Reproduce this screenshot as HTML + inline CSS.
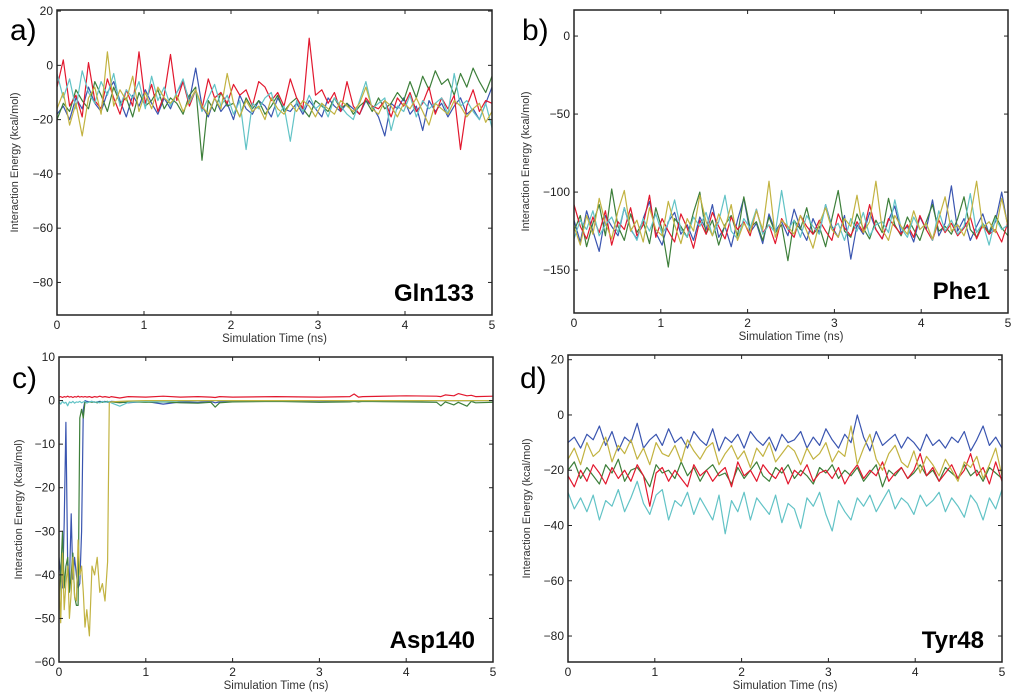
<!DOCTYPE html>
<html><head><meta charset="utf-8">
<style>
html,body{margin:0;padding:0;background:#fff;}
svg{display:block;font-family:"Liberation Sans",sans-serif;}
</style></head>
<body>
<svg id="fig" width="1024" height="700" viewBox="0 0 1024 700"></svg>
<script>
// ---- Panel a (Gln133) ----
const aBlue=[-18,-15,-20,-12,-16,-8,-14,-17,-10,-6,-13,-19,-11,-15,-9,-14,-18,-12,-16,-10,-6,-13,-1,-15,-19,-12,-17,-14,-20,-11,-16,-18,-13,-15,-19,-12,-16,-17,-14,-18,-13,-16,-19,-12,-15,-17,-14,-16,-18,-13,-15,-19,-26,-14,-16,-12,-18,-15,-24,-13,-17,-14,-19,-15,-12,-18,-16,-20,-14,-8];
const aGreen=[-20,-14,-17,-9,-13,-16,-6,-11,-17,-8,-14,-12,-19,-10,-15,-13,-9,-16,-12,-14,-18,-11,-8,-35,-13,-17,-10,-15,-14,-19,-12,-16,-13,-18,-15,-11,-17,-14,-12,-16,-19,-13,-15,-17,-12,-16,-14,-18,-15,-13,-17,-12,-16,-14,-10,-13,-6,-12,-4,-9,-2,-7,-5,-11,-3,-8,-1,-6,-10,-4];
const aRed=[-8,2,-15,-11,-19,1,-13,-16,-5,-12,-18,-9,-15,5,-14,-7,-17,-11,4,-13,-6,-15,-9,-16,-5,-12,-10,-14,-7,-11,-9,-15,-6,-8,-13,-10,-15,-5,-12,-16,10,-11,-9,-14,-10,-17,-6,-15,-18,-12,-15,-16,-13,-19,-12,-15,-10,-17,-14,-8,-18,-12,-16,-11,-31,-15,-9,-17,-13,-14];
const aCyan=[-3,-12,-5,-16,-2,-10,-14,-6,-11,-3,-15,-9,-12,-6,-16,-4,-13,-8,-15,-10,-5,-14,-9,-17,-12,-7,-15,-11,-18,-13,-31,-14,-16,-12,-10,-19,-15,-28,-13,-17,-11,-16,-14,-19,-12,-15,-18,-20,-13,-6,-16,-14,-12,-24,-15,-17,-11,-19,-13,-16,-14,-12,-18,-3,-15,-13,-17,-20,-14,-23];
const aOlive=[-16,-10,-22,-14,-26,-12,-8,-18,5,-15,-9,-13,-4,-17,-10,-16,-8,-12,-14,-11,-17,-13,-9,-15,-18,-12,-16,-3,-14,-19,-13,-17,-15,-20,-12,-16,-18,-14,-17,-13,-15,-19,-14,-16,-18,-13,-15,-17,-14,-8,-16,-18,-13,-15,-19,-14,-16,-12,-17,-22,-14,-16,-18,-13,-15,-19,-16,-14,-21,-17];
const aTicksY=[20,0,-20,-40,-60,-80];
// ---- Panel b (Phe1) ----
const bBlue=[-118,-132,-112,-125,-138,-115,-122,-128,-110,-124,-130,-117,-106,-126,-134,-119,-113,-127,-121,-131,-116,-124,-108,-129,-122,-135,-118,-104,-126,-120,-133,-114,-125,-119,-128,-111,-123,-131,-117,-126,-108,-122,-129,-115,-143,-121,-127,-113,-124,-130,-118,-109,-126,-122,-132,-116,-124,-105,-128,-120,-96,-125,-117,-131,-122,-114,-127,-119,-100,-123];
const bGreen=[-125,-115,-135,-120,-108,-128,-98,-122,-131,-114,-126,-119,-133,-110,-124,-148,-117,-122,-129,-113,-100,-127,-118,-134,-121,-115,-128,-103,-123,-119,-131,-116,-126,-121,-144,-118,-124,-110,-127,-122,-135,-117,-99,-125,-129,-114,-123,-130,-118,-126,-104,-121,-128,-116,-124,-131,-119,-108,-125,-122,-127,-117,-103,-124,-129,-120,-126,-115,-123,-128];
const bRed=[-108,-122,-130,-116,-126,-112,-134,-119,-124,-110,-128,-121,-102,-129,-117,-125,-132,-114,-123,-136,-118,-127,-113,-122,-130,-116,-124,-119,-128,-111,-126,-121,-133,-117,-124,-129,-115,-122,-127,-118,-125,-131,-114,-123,-128,-119,-126,-108,-124,-130,-117,-122,-127,-121,-129,-115,-124,-131,-118,-126,-120,-128,-123,-116,-130,-121,-127,-124,-132,-119];
const bCyan=[-130,-118,-124,-112,-128,-121,-116,-126,-110,-123,-131,-117,-125,-114,-127,-120,-105,-124,-129,-116,-122,-113,-128,-119,-102,-125,-130,-117,-123,-111,-127,-121,-126,-99,-124,-118,-129,-115,-122,-127,-108,-124,-120,-131,-117,-125,-113,-128,-121,-119,-126,-105,-123,-129,-116,-124,-120,-131,-112,-125,-118,-127,-122,-101,-126,-120,-134,-117,-124,-121];
const bOlive=[-122,-134,-115,-127,-104,-120,-130,-112,-99,-125,-118,-132,-110,-124,-128,-106,-121,-133,-117,-125,-102,-119,-128,-114,-123,-108,-131,-120,-126,-112,-124,-93,-129,-118,-122,-127,-115,-125,-136,-120,-110,-124,-129,-117,-122,-102,-126,-119,-93,-124,-131,-115,-122,-127,-112,-124,-120,-130,-117,-103,-125,-121,-128,-116,-93,-123,-119,-126,-104,-122];
const bTicksY=[0,-50,-100,-150];
// ---- Panel c (Asp140) ----
const cTime=[0,0.02,0.04,0.06,0.08,0.1,0.12,0.14,0.16,0.18,0.2,0.22,0.24,0.26,0.28,0.3,0.32,0.35,0.38,0.41,0.44,0.47,0.5,0.53,0.56,0.58,0.6,0.7,0.8,1,1.2,1.4,1.6,1.75,1.8,1.85,2,2.5,3,3.35,3.4,3.45,3.5,4,4.35,4.4,4.45,4.55,4.6,4.7,4.75,4.8,5];
const cBlue=[-36,-40,-43,-28,-5,-38,-42,-26,-41,-36,-40,-43,-42,-30,-2,0,-0.2,-0.3,-0.2,-0.4,-0.3,-0.2,-0.3,-0.2,-0.4,-0.3,-0.2,-0.3,-0.5,-0.2,-0.8,-0.3,-0.4,-0.2,-0.5,-0.3,-0.1,0,-0.3,0,0,0,0,0,0,0,0,0,0,0,0,0,0];
const cGreen=[-48,-40,-30,-43,-38,-36,-44,-40,-35,-45,-47,-47,-4,-2,-4,-0.3,-0.5,-0.3,-0.4,-0.3,-0.5,-0.3,-0.4,-0.3,-0.2,-0.4,-0.3,-0.5,-0.3,-0.4,-0.3,-0.5,-0.6,-0.4,-1.5,-0.5,-0.3,-0.2,-0.4,-0.3,-0.2,-0.3,-0.2,-0.3,-0.4,-1.2,-0.3,-1,-0.4,-1.3,-0.2,-0.5,-0.4];
const cRed=[0.8,0.9,0.7,0.9,0.8,1,0.8,0.9,0.7,0.9,0.8,1,0.8,0.9,0.8,0.9,0.8,0.9,0.7,0.9,0.8,1,0.8,0.9,0.8,0.7,0.9,0.6,0.9,0.8,1,0.8,0.9,0.8,0.7,0.9,0.8,0.9,0.8,0.9,1.5,0.8,0.9,1.1,1,0.9,1.3,1.1,1.6,1.1,1.2,0.9,1];
const cCyan=[-0.3,-0.8,-0.2,-0.6,-0.4,-1.2,-0.3,-0.5,-0.2,-0.6,-0.3,-0.4,-0.2,-0.5,-0.3,-0.2,-0.5,-0.3,-0.2,-0.4,-0.3,-0.5,-0.2,-0.4,-0.3,-0.2,-0.5,-1.3,-0.4,-0.2,-0.3,-0.1,0,0,0,0,0,0,0,0,0,0,0,0,0,0,0,0,0,0,0,0,0];
const cOlive=[-40,-51,-35,-48,-42,-38,-50,-44,-36,-45,-46,-32,-40,-38,-44,-52,-48,-54,-38,-40,-36,-44,-42,-46,-37,-0.5,-0.3,-0.2,-0.1,0,0,0,0,0,0,0,0,0,0,0,0,0,0,0,0,0,0,0,0,0,0,0,0];
const cTicksY=[10,0,-10,-20,-30,-40,-50,-60];
// ---- Panel d (Tyr48) ----
const dBlue=[-10,-8,-12,-7,-9,-4,-11,-6,-13,-8,-10,-3,-12,-9,-7,-11,-5,-10,-8,-12,-6,-9,-11,-5,-13,-8,-10,-7,-12,-6,-9,-11,-8,-13,-7,-10,-9,-6,-12,-8,-11,-5,-9,-12,-7,-10,0,-8,-13,-6,-11,-9,-7,-12,-8,-10,-13,-7,-11,-9,-12,-8,-10,-6,-13,-9,-4,-11,-8,-12];
const dGreen=[-20,-17,-23,-19,-22,-25,-18,-21,-16,-24,-20,-19,-22,-26,-18,-21,-20,-23,-17,-22,-19,-24,-20,-18,-22,-21,-25,-19,-23,-20,-17,-22,-24,-19,-21,-18,-23,-20,-22,-25,-19,-21,-18,-23,-20,-22,-19,-24,-21,-18,-26,-20,-22,-19,-23,-21,-18,-22,-20,-24,-19,-21,-23,-18,-22,-20,-24,-19,-21,-23];
const dRed=[-22,-26,-20,-24,-18,-21,-25,-19,-23,-20,-24,-18,-22,-33,-21,-19,-24,-20,-23,-26,-18,-22,-20,-24,-21,-19,-26,-17,-22,-20,-24,-18,-21,-23,-19,-25,-20,-22,-18,-24,-21,-20,-23,-19,-25,-21,-18,-23,-20,-22,-17,-24,-21,-19,-23,-20,-14,-22,-19,-24,-21,-18,-23,-20,-14,-22,-19,-25,-17,-24];
const dCyan=[-28,-34,-30,-35,-29,-38,-31,-33,-27,-35,-30,-24,-32,-36,-29,-27,-38,-31,-33,-28,-36,-30,-34,-38,-29,-43,-31,-35,-28,-38,-30,-33,-36,-29,-39,-32,-34,-41,-30,-33,-28,-36,-42,-31,-35,-38,-30,-33,-29,-35,-31,-27,-34,-30,-32,-36,-29,-33,-31,-28,-35,-30,-33,-37,-29,-32,-38,-30,-34,-27];
const dOlive=[-16,-12,-18,-10,-15,-13,-8,-17,-11,-14,-9,-16,-12,-18,-10,-14,-15,-11,-17,-9,-13,-16,-12,-10,-18,-14,-11,-16,-13,-19,-12,-15,-10,-17,-14,-11,-13,-18,-12,-16,-14,-10,-17,-13,-15,-4,-18,-12,-7,-16,-20,-14,-11,-17,-19,-13,-21,-15,-18,-22,-16,-20,-24,-17,-19,-15,-23,-18,-12,-22];
const dTicksY=[20,0,-20,-40,-60,-80];
const xTicks=[0,1,2,3,4,5];
const seriesNames=['blue','green','red','cyan','olive'];

const COLORS={blue:'#3a55b0',green:'#3d7f3a',red:'#e2182e',cyan:'#62c3c6',olive:'#c2b341'};
const NS='http://www.w3.org/2000/svg';
const svg=document.getElementById('fig');
function mk(tag,attrs,parent){const e=document.createElementNS(NS,tag);for(const k in attrs)e.setAttribute(k,attrs[k]);(parent||svg).appendChild(e);return e;}

const panels=[
 {id:'a',name:'Gln133',x0:57,x1:492,y0:10,y1:315,vmax:20.4,vmin:-92,ticks:aTicksY,series:[aBlue,aGreen,aRed,aCyan,aOlive],time:null,lx:10,ly:40,yl:18},
 {id:'b',name:'Phe1',x0:574,x1:1008,y0:10,y1:313,vmax:16.7,vmin:-177.5,ticks:bTicksY,series:[bBlue,bGreen,bRed,bCyan,bOlive],time:null,lx:522,ly:40,yl:529},
 {id:'c',name:'Asp140',x0:59,x1:493,y0:357,y1:662,vmax:10,vmin:-60,ticks:cTicksY,series:[cBlue,cGreen,cRed,cCyan,cOlive],time:cTime,lx:12,ly:388,yl:22},
 {id:'d',name:'Tyr48',x0:568,x1:1002,y0:355,y1:662,vmax:21.7,vmin:-89.4,ticks:dTicksY,series:[dBlue,dGreen,dRed,dCyan,dOlive],time:null,lx:520,ly:388,yl:530}
];

panels.forEach(p=>{
  const g=mk('g',{});
  
  
  const sx=v=>p.x0+(v-0)/(5-0)*(p.x1-p.x0);
  const sy=v=>p.y0+(p.vmax-v)/(p.vmax-p.vmin)*(p.y1-p.y0);
  const clipId='clip'+p.id;
  const cp=mk('clipPath',{id:clipId},g);
  mk('rect',{x:p.x0,y:p.y0,width:p.x1-p.x0,height:p.y1-p.y0},cp);
  const sg=mk('g',{'clip-path':'url(#'+clipId+')'},g);
  p.series.forEach((vals,si)=>{
    const n=vals.length;
    const pts=vals.map((v,i)=>{const t=p.time?p.time[i]:i*5/(n-1);return sx(t).toFixed(1)+','+sy(v).toFixed(1);}).join(' ');
    const pl=mk('polyline',{points:pts,fill:'none',stroke:COLORS[seriesNames[si]],'stroke-width':1.2,'stroke-linejoin':'round'},sg);
    
    
  });
  const fr=mk('rect',{x:p.x0,y:p.y0,width:p.x1-p.x0,height:p.y1-p.y0,fill:'none',stroke:'#222','stroke-width':1.5},g);
  
  
  p.ticks.forEach(v=>{
    const y=sy(v);
    mk('line',{x1:p.x0,x2:p.x0+4,y1:y,y2:y,stroke:'#222','stroke-width':1},g);
    mk('line',{x1:p.x1,x2:p.x1-4,y1:y,y2:y,stroke:'#222','stroke-width':1},g);
    const t=mk('text',{x:p.x0-4,y:y+4,'text-anchor':'end','font-size':12,fill:'#222'},g);
    t.textContent=(v<0?'\u2212'+(-v):String(v));
    
    
  });
  xTicks.forEach(v=>{
    const x=sx(v);
    mk('line',{x1:x,x2:x,y1:p.y1,y2:p.y1-4,stroke:'#222','stroke-width':1},g);
    mk('line',{x1:x,x2:x,y1:p.y0,y2:p.y0+4,stroke:'#222','stroke-width':1},g);
    const t=mk('text',{x:x,y:p.y1+14,'text-anchor':'middle','font-size':12,fill:'#222'},g);
    t.textContent=String(v);
    
    
  });
  const xt=mk('text',{x:(p.x0+p.x1)/2,y:p.y1+27,'text-anchor':'middle','font-size':11.5,fill:'#333'},g);
  xt.textContent='Simulation Time (ns)';
  
  
  const yc=(p.y0+p.y1)/2;
  const yt=mk('text',{x:p.yl,y:yc,'text-anchor':'middle','font-size':11,fill:'#333',transform:'rotate(-90 '+p.yl+' '+yc+')'},g);
  yt.textContent='Interaction Energy (kcal/mol)';
  
  
  const lt=mk('text',{x:p.lx,y:p.ly,'font-size':30,fill:'#000'},g);
  lt.textContent=p.id+')';
  
  
  const rt=mk('text',{x:p.x1-18,y:p.y1-14,'text-anchor':'end','font-size':24,'font-weight':'bold',fill:'#000'},g);
  rt.textContent=p.name;
  
  
});
</script>
</body></html>
